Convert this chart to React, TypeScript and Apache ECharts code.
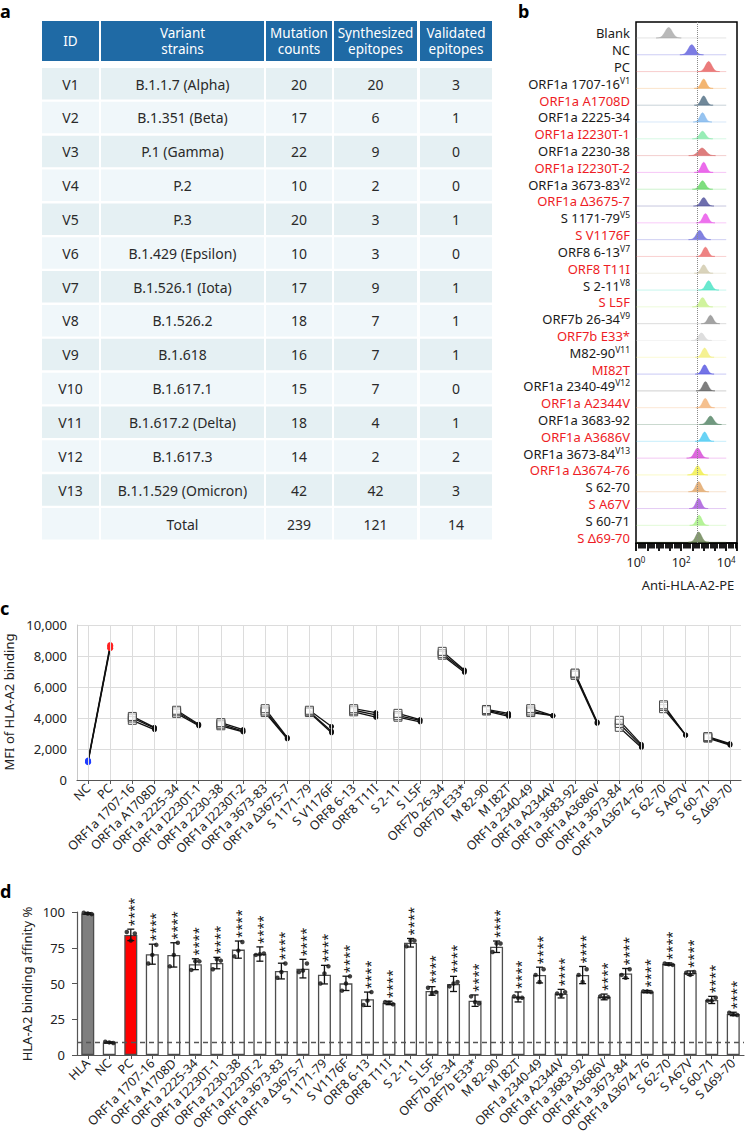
import React, { useEffect, useRef } from 'react';
import * as echarts from 'echarts';

const FONT = "'Noto Sans', 'DejaVu Sans', sans-serif";

// ---------- Panel a: table ----------
const tableHeaders = ['ID', 'Variant\nstrains', 'Mutation\ncounts', 'Synthesized\nepitopes', 'Validated\nepitopes'];
const variantIds = ['V1', 'V2', 'V3', 'V4', 'V5', 'V6', 'V7', 'V8', 'V9', 'V10', 'V11', 'V12', 'V13', ''];
const variantStrains = ['B.1.1.7 (Alpha)', 'B.1.351 (Beta)', 'P.1 (Gamma)', 'P.2', 'P.3', 'B.1.429 (Epsilon)', 'B.1.526.1 (Iota)', 'B.1.526.2', 'B.1.618', 'B.1.617.1', 'B.1.617.2 (Delta)', 'B.1.617.3', 'B.1.1.529 (Omicron)', 'Total'];
const mutationCounts = [20, 17, 22, 10, 20, 10, 17, 18, 16, 15, 18, 14, 42, 239];
const synthesizedEpitopes = [20, 6, 9, 2, 3, 3, 9, 7, 7, 7, 4, 2, 42, 121];
const validatedEpitopes = [3, 1, 0, 0, 1, 0, 1, 1, 1, 0, 1, 2, 3, 14];

// ---------- Panel b: flow histograms ----------
const histLabels = ['Blank', 'NC', 'PC', 'ORF1a 1707-16', 'ORF1a A1708D', 'ORF1a 2225-34', 'ORF1a I2230T-1', 'ORF1a 2230-38', 'ORF1a I2230T-2', 'ORF1a 3673-83', 'ORF1a Δ3675-7', 'S 1171-79', 'S V1176F', 'ORF8 6-13', 'ORF8 T11I', 'S 2-11', 'S L5F', 'ORF7b 26-34', 'ORF7b E33*', 'M82-90', 'MI82T', 'ORF1a 2340-49', 'ORF1a A2344V', 'ORF1a 3683-92', 'ORF1a A3686V', 'ORF1a 3673-84', 'ORF1a Δ3674-76', 'S 62-70', 'S A67V', 'S 60-71', 'S Δ69-70'];
const histSup = ['', '', '', 'V1', '', '', '', '', '', 'V2', '', 'V5', '', 'V7', '', 'V8', '', 'V9', '', 'V11', '', 'V12', '', '', '', 'V13', '', '', '', '', ''];
const histMutant = [0, 0, 0, 0, 1, 0, 1, 0, 1, 0, 1, 0, 1, 0, 1, 0, 1, 0, 1, 0, 1, 0, 1, 0, 1, 0, 1, 0, 1, 0, 1];
const histPeak = [28, 295, 1660, 1000, 1000, 890, 890, 850, 1000, 890, 1000, 1200, 660, 1200, 1000, 1660, 890, 2000, 795, 1100, 1100, 1200, 1175, 2000, 1100, 540, 540, 600, 600, 630, 600];
const histSpread = [0.16, 0.15, 0.14, 0.12, 0.12, 0.12, 0.13, 0.17, 0.12, 0.13, 0.13, 0.12, 0.14, 0.12, 0.12, 0.13, 0.13, 0.12, 0.13, 0.12, 0.12, 0.12, 0.12, 0.14, 0.12, 0.14, 0.13, 0.13, 0.12, 0.12, 0.13];
const histHeight = [0.62, 0.6, 0.6, 0.55, 0.55, 0.55, 0.45, 0.45, 0.6, 0.5, 0.5, 0.55, 0.55, 0.55, 0.5, 0.55, 0.55, 0.5, 0.45, 0.55, 0.55, 0.55, 0.55, 0.5, 0.55, 0.6, 0.55, 0.6, 0.6, 0.6, 0.6];
const histColors = ['#a8a8a8', '#5b5bdc', '#e65a5a', '#f0a24e', '#4c6a80', '#7cb4ec', '#7ee8a4', '#d65c5c', '#e646e6', '#5ed65e', '#4a4a98', '#e84ee8', '#6262d8', '#ea6464', '#cfc8aa', '#44e2c2', '#c4f084', '#8c8c8c', '#d6d6d6', '#f2ee78', '#5050e0', '#5e5e5e', '#f2b072', '#4e8060', '#44c8f2', '#d444d4', '#f0ee44', '#e0a262', '#a452da', '#a2f07e', '#66804e'];
const histGateLine = 540;
const histTicks = [1, 100, 10000];

// ---------- Panel c: MFI ----------
const cLabels = ['NC', 'PC', 'ORF1a 1707-16', 'ORF1a A1708D', 'ORF1a 2225-34', 'ORF1a I2230T-1', 'ORF1a 2230-38', 'ORF1a I2230T-2', 'ORF1a 3673-83', 'ORF1a Δ3675-7', 'S 1171-79', 'S V1176F', 'ORF8 6-13', 'ORF8 T11I', 'S 2-11', 'S L5F', 'ORF7b 26-34', 'ORF7b E33*', 'M 82-90', 'M I82T', 'ORF1a 2340-49', 'ORF1a A2344V', 'ORF1a 3683-92', 'ORF1a A3686V', 'ORF1a 3673-84', 'ORF1a Δ3674-76', 'S 62-70', 'S A67V', 'S 60-71', 'S Δ69-70'];
const cNC = [1150, 1200, 1250];
const cPC = [8500, 8600, 8700];
const cWildType = [
  [3850, 4000, 4100], [4300, 4400, 4500], [3500, 3600, 3700], [4350, 4450, 4600], [4350, 4400, 4500],
  [4400, 4500, 4600], [4050, 4150, 4300], [8050, 8150, 8300], [4450, 4500, 4550], [4350, 4450, 4600],
  [6750, 6850, 6900], [3400, 3650, 3850], [4600, 4750, 4850], [2700, 2750, 2800],
];
const cMutant = [
  [3250, 3350, 3400], [3500, 3550, 3600], [3100, 3150, 3250], [2650, 2700, 2750], [3050, 3150, 3450],
  [4050, 4200, 4350], [3750, 3850, 3900], [6950, 7050, 7100], [4100, 4200, 4300], [4150, 4150, 4150],
  [3650, 3700, 3750], [2100, 2200, 2300], [2900, 2900, 2900], [2250, 2300, 2350],
];

// ---------- Panel d: binding affinity ----------
const dLabels = ['HLA', ...cLabels];
const dMean = [99, 8.8, 84, 70.5, 70, 63.5, 64.3, 73.7, 70.6, 58.7, 60.4, 56.2, 50.1, 39, 36.4, 78.5, 44.8, 49.7, 38, 75.7, 40.6, 55.9, 42.9, 55.9, 40.6, 57, 44.3, 63.6, 57.3, 38.5, 28.7];
const dSD = [0.5, 0.4, 4, 7, 8.5, 3.8, 4, 6, 5, 5.5, 6.5, 6.5, 5, 5, 1.2, 3, 3, 5.3, 4, 4, 3.5, 5.5, 3, 6, 2, 3.5, 0.8, 0.8, 1.5, 2.5, 1.2];
const dRep1 = [99.5, 9.3, 86, 64, 62, 59.5, 60, 69, 70, 54, 58, 50, 45, 35, 37, 76, 47, 48, 41, 72, 41, 56, 43, 56, 41, 56, 44.5, 64, 57.5, 38, 29.5];
const dRep2 = [99, 8.8, 80, 70, 70, 65.5, 67, 73, 70.5, 58, 59, 57, 50, 38, 36.5, 80, 43, 50, 37, 78, 40, 51, 42, 51, 40, 54, 44.5, 63.5, 56, 38, 28.5];
const dRep3 = [98.5, 8.4, 85, 77, 78.5, 65.5, 66, 79, 71, 64, 64, 62, 55, 44, 35.5, 80, 44, 51, 36, 78, 40, 60, 44, 60, 40.5, 60, 44, 63, 58, 40, 28];
const dSignificance = ['', '', '****', '****', '****', '****', '****', '****', '****', '****', '****', '****', '****', '****', '****', '****', '****', '****', '****', '****', '****', '****', '****', '****', '****', '****', '****', '****', '****', '****', '****'];
const dThreshold = 9;

function buildTable(): any[] {
  const colLeft = [42, 101, 266, 334, 420];
  const colWidth = [57, 163, 66, 83, 72];
  const els: any[] = [];
  tableHeaders.forEach((h, c) => {
    els.push({ type: 'rect', shape: { x: colLeft[c], y: 21, width: colWidth[c], height: 40 }, style: { fill: '#1f6aa5' } });
    els.push({ type: 'text', x: colLeft[c] + colWidth[c] / 2, y: 41, style: { text: h, fill: '#ffffff', font: `13.5px ${FONT}`, align: 'center', verticalAlign: 'middle', lineHeight: 16 } });
  });
  const cols = [variantIds, variantStrains, mutationCounts, synthesizedEpitopes, validatedEpitopes];
  variantStrains.forEach((_, r) => {
    const y = 68 + r * 33.85;
    cols.forEach((col, c) => {
      els.push({ type: 'rect', shape: { x: colLeft[c], y, width: colWidth[c], height: 31.5 }, style: { fill: r % 2 === 0 ? '#e5f0f3' : '#f0f7fa' } });
      els.push({ type: 'text', x: colLeft[c] + colWidth[c] / 2, y: y + 16, style: { text: String(col[r]), fill: '#2a2a2a', font: `14px ${FONT}`, align: 'center', verticalAlign: 'middle' } });
    });
  });
  return els;
}

function buildOption(): any {
  const labelStyle = { fontFamily: FONT, color: '#222', fontSize: 12.5 };

  const histSeries = {
    type: 'custom',
    xAxisIndex: 0,
    yAxisIndex: 0,
    silent: true,
    data: histPeak.map((p, i) => [p, i, histSpread[i], histHeight[i]]),
    encode: { x: 0, y: 1 },
    renderItem: (params: any, api: any) => {
      const peak = api.value(0);
      const row = api.value(1);
      const sd = api.value(2);
      const hgt = api.value(3);
      const color = histColors[params.dataIndex];
      const c = api.coord([peak, row]);
      const band = api.size([0, 1])[1];
      const baseY = c[1] + band * 0.45;
      const lc = Math.log10(peak);
      const pts: number[][] = [];
      for (let k = -35; k <= 35; k++) {
        const t = k / 10;
        const x = api.coord([Math.pow(10, lc + t * sd), row])[0];
        pts.push([x, baseY - hgt * band * Math.exp(-0.5 * t * t)]);
      }
      const x0 = api.coord([1, row])[0];
      const x1 = api.coord([10000, row])[0];
      return {
        type: 'group',
        children: [
          { type: 'line', shape: { x1: x0, y1: baseY, x2: x1, y2: baseY }, style: { stroke: color, opacity: 0.3, lineWidth: 1 } },
          { type: 'polygon', shape: { points: pts }, style: { fill: color, opacity: 0.8, stroke: color, lineWidth: 0.5 } },
        ],
      };
    },
  };

  const gateSeries = {
    type: 'scatter',
    xAxisIndex: 0,
    yAxisIndex: 0,
    symbolSize: 0,
    silent: true,
    data: [[histGateLine, 0]],
    markLine: {
      silent: true,
      symbol: ['none', 'none'],
      label: { show: false },
      lineStyle: { type: 'dotted', color: '#8a8a8a', width: 1 },
      data: [{ xAxis: histGateLine }],
    },
  };

  // Panel c series
  const cGridLines = {
    type: 'scatter',
    xAxisIndex: 1,
    yAxisIndex: 1,
    symbolSize: 0,
    silent: true,
    z: 1,
    data: [[0, 0]],
    markLine: {
      silent: true,
      symbol: ['none', 'none'],
      label: { show: false },
      lineStyle: { type: 'solid', color: '#dcdcdc', width: 1 },
      data: cLabels.map((l) => ({ xAxis: l })),
    },
  };
  const cSeries: any[] = [];
  for (let r = 0; r < 3; r++) {
    cSeries.push({
      type: 'line',
      xAxisIndex: 1,
      yAxisIndex: 1,
      z: 3,
      lineStyle: { color: '#111', width: 1.3 },
      data: [
        { value: [0, cNC[r]], symbol: 'circle', symbolSize: 6, itemStyle: { color: '#1f3cff' } },
        { value: [1, cPC[r]], symbol: 'circle', symbolSize: 6, itemStyle: { color: '#ff2222' } },
      ],
    });
    cWildType.forEach((wt, p) => {
      cSeries.push({
        type: 'line',
        xAxisIndex: 1,
        yAxisIndex: 1,
        z: 3,
        lineStyle: { color: '#111', width: 1.3 },
        data: [
          { value: [2 + p * 2, wt[r]], symbol: 'rect', symbolSize: 8, itemStyle: { color: 'rgba(255,255,255,0.55)', borderColor: '#4a4a4a', borderWidth: 1 } },
          { value: [3 + p * 2, cMutant[p][r]], symbol: 'circle', symbolSize: 5, itemStyle: { color: '#111' } },
        ],
      });
    });
  }

  // Panel d series
  const dBars = {
    type: 'bar',
    xAxisIndex: 2,
    yAxisIndex: 2,
    barWidth: 13,
    z: 2,
    data: dMean.map((m, i) => ({
      value: m,
      itemStyle: { color: i === 0 ? '#7f7f7f' : i === 2 ? '#ff0000' : '#ffffff', borderColor: '#4d4d4d', borderWidth: 1.3 },
    })),
    markLine: {
      silent: true,
      symbol: ['none', 'none'],
      label: { show: false },
      lineStyle: { type: [5, 4], color: '#555', width: 1.3 },
      data: [{ yAxis: dThreshold }],
    },
  };
  const dErr = {
    type: 'custom',
    xAxisIndex: 2,
    yAxisIndex: 2,
    z: 4,
    silent: true,
    encode: { x: 0, y: [1, 2] },
    data: dMean.map((m, i) => [i, m - dSD[i], m + dSD[i]]),
    renderItem: (params: any, api: any) => {
      const x = api.value(0);
      const lo = api.coord([x, api.value(1)]);
      const hi = api.coord([x, api.value(2)]);
      const w = 3.5;
      const st = { stroke: '#111', lineWidth: 1.3 };
      const children: any[] = [
        { type: 'line', shape: { x1: lo[0], y1: lo[1], x2: hi[0], y2: hi[1] }, style: st },
        { type: 'line', shape: { x1: hi[0] - w, y1: hi[1], x2: hi[0] + w, y2: hi[1] }, style: st },
        { type: 'line', shape: { x1: lo[0] - w, y1: lo[1], x2: lo[0] + w, y2: lo[1] }, style: st },
      ];
      const sig = dSignificance[params.dataIndex];
      if (sig) {
        children.push({
          type: 'text',
          x: hi[0] + 3,
          y: hi[1] - 3,
          rotation: Math.PI / 2 + 0.003,
          style: { text: sig, fill: '#111', font: `13px ${FONT}`, align: 'left', verticalAlign: 'middle' },
        });
      }
      return { type: 'group', children };
    },
  };
  const dReps = [dRep1, dRep2, dRep3].map((rep, k) => ({
    type: 'scatter',
    xAxisIndex: 2,
    yAxisIndex: 2,
    z: 5,
    symbolSize: 4.5,
    symbolOffset: [(k - 1) * 4, 0],
    itemStyle: { color: '#111' },
    data: rep.map((v, i) => [i, v]),
  }));

  const graphic: any[] = [
    ...buildTable(),
    { type: 'text', x: 0, y: 11, style: { text: 'a', font: `bold 18px ${FONT}`, fill: '#000', verticalAlign: 'middle' } },
    { type: 'text', x: 518, y: 11, style: { text: 'b', font: `bold 18px ${FONT}`, fill: '#000', verticalAlign: 'middle' } },
    { type: 'text', x: 0, y: 608, style: { text: 'c', font: `bold 18px ${FONT}`, fill: '#000', verticalAlign: 'middle' } },
    { type: 'text', x: 0, y: 891, style: { text: 'd', font: `bold 18px ${FONT}`, fill: '#000', verticalAlign: 'middle' } },
    { type: 'text', x: 688, y: 585, style: { text: 'Anti-HLA-A2-PE', font: `13px ${FONT}`, fill: '#222', align: 'center', verticalAlign: 'middle' } },
    { type: 'text', x: 9, y: 702, rotation: Math.PI / 2, style: { text: 'MFI of HLA-A2 binding', font: `13px ${FONT}`, fill: '#222', align: 'center', verticalAlign: 'middle' } },
    { type: 'text', x: 27, y: 984, rotation: Math.PI / 2, style: { text: 'HLA-A2 binding affinity %', font: `13px ${FONT}`, fill: '#222', align: 'center', verticalAlign: 'middle' } },
  ];

  return {
    animation: false,
    backgroundColor: '#ffffff',
    textStyle: { fontFamily: FONT },
    graphic,
    grid: [
      { left: 636, top: 22, width: 101, height: 521, show: true, borderColor: '#000', borderWidth: 1.5, backgroundColor: 'transparent' },
      { left: 77, top: 625, width: 664, height: 155 },
      { left: 77, top: 912, width: 667, height: 143 },
    ],
    xAxis: [
      {
        type: 'log',
        gridIndex: 0,
        logBase: 10,
        min: 1,
        max: 30000,
        position: 'bottom',
        axisLine: { show: true, lineStyle: { color: '#000', width: 1.5 } },
        axisTick: { show: false },
        splitLine: { show: false },
        axisLabel: {
          ...labelStyle,
          margin: 12,
          formatter: (v: number) => {
            const e = Math.round(Math.log10(v));
            if (Math.abs(Math.log10(v) - e) > 1e-6) return '';
            if (!histTicks.includes(Math.pow(10, e))) return '';
            return `{b|10}{s|${e}}`;
          },
          rich: {
            b: { fontFamily: FONT, fontSize: 12.5, color: '#222' },
            s: { fontFamily: FONT, fontSize: 8, color: '#222', padding: [0, 0, 7, 0] },
          },
        },
      },
      {
        type: 'category',
        gridIndex: 1,
        data: cLabels,
        boundaryGap: true,
        axisLine: { lineStyle: { color: '#555', width: 1.2 } },
        axisTick: { show: true, alignWithLabel: true, length: 4, lineStyle: { color: '#555' } },
        axisLabel: { ...labelStyle, fontSize: 12.5, interval: 0, rotate: 45, margin: 6 },
      },
      {
        type: 'category',
        gridIndex: 2,
        data: dLabels,
        boundaryGap: true,
        axisLine: { lineStyle: { color: '#555', width: 1.2 } },
        axisTick: { show: true, alignWithLabel: true, length: 4, lineStyle: { color: '#555' } },
        axisLabel: { ...labelStyle, fontSize: 12.5, interval: 0, rotate: 45, margin: 6 },
      },
      {
        // dense tick band under panel b (exponent space, decades)
        type: 'value',
        gridIndex: 0,
        min: 0,
        max: Math.log10(30000),
        interval: 0.5,
        position: 'bottom',
        axisLine: { show: false },
        axisLabel: { show: false },
        splitLine: { show: false },
        axisTick: { show: true, length: 8, lineStyle: { color: '#000', width: 1.8 } },
        minorTick: { show: true, splitNumber: 5, length: 5.5, lineStyle: { color: '#000', width: 1.8 } },
      },
    ],
    yAxis: [
      {
        type: 'category',
        gridIndex: 0,
        inverse: true,
        data: histLabels,
        axisLine: { show: false },
        axisTick: { show: false },
        splitLine: { show: false },
        axisLabel: {
          interval: 0,
          margin: 6,
          padding: [6, 0, 0, 0],
          formatter: (val: string, idx: number) => {
            const t = histMutant[idx] ? `{r|${val}}` : `{k|${val}}`;
            return histSup[idx] ? `${t}{s|${histSup[idx]}}` : t;
          },
          rich: {
            k: { fontFamily: FONT, fontSize: 13, color: '#1a1a1a' },
            r: { fontFamily: FONT, fontSize: 13, color: '#ee1c25' },
            s: { fontFamily: FONT, fontSize: 8.5, color: '#1a1a1a', padding: [0, 0, 7, 0] },
          },
        },
      },
      {
        type: 'value',
        gridIndex: 1,
        min: 0,
        max: 10000,
        interval: 2000,
        axisLine: { show: true, lineStyle: { color: '#c8c8c8' } },
        axisTick: { show: false },
        splitLine: { show: true, lineStyle: { color: '#dcdcdc', width: 1 } },
        axisLabel: { ...labelStyle, fontSize: 13, margin: 10, formatter: (v: number) => v.toLocaleString('en-US') },
      },
      {
        type: 'value',
        gridIndex: 2,
        min: 0,
        max: 100,
        interval: 25,
        axisLine: { show: true, lineStyle: { color: '#555', width: 1.2 } },
        axisTick: { show: true, length: 5, lineStyle: { color: '#555' } },
        splitLine: { show: false },
        axisLabel: { ...labelStyle, fontSize: 13, margin: 12 },
      },
    ],
    series: [histSeries, gateSeries, cGridLines, ...cSeries, dBars, dErr, ...dReps],
  };
}

export default function App() {
  const ref = useRef<HTMLDivElement>(null);
  useEffect(() => {
    if (!ref.current) return;
    const chart = echarts.init(ref.current, null, { renderer: 'svg' });
    chart.setOption(buildOption());
    return () => chart.dispose();
  }, []);
  return (
    <div
      ref={ref}
      style={{ position: 'absolute', left: 0, top: 0, width: 752, height: 1137, background: '#ffffff' }}
    />
  );
}
